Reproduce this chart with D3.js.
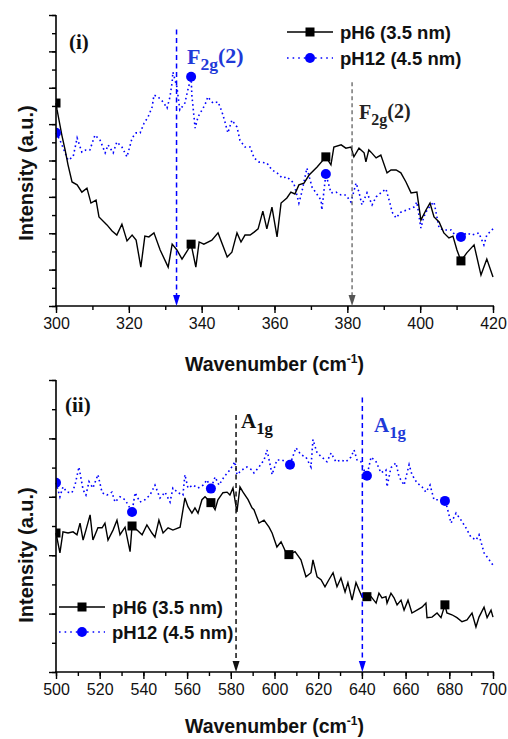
<!DOCTYPE html>
<html>
<head>
<meta charset="utf-8">
<script src="https://cdn.jsdelivr.net/npm/d3@7"></script>
<style>
  html, body { margin: 0; padding: 0; background: #fff; }
  svg { display: block; }
  .tick text { font-family: "Liberation Sans", Arial, sans-serif; }
</style>
</head>
<body>
<svg id="chart" width="508" height="739"></svg>
<script>
// ---------- Panel (i): F2g(2) region, 300–420 cm-1 ----------
const xTicksI = [300, 320, 340, 360, 380, 400, 420];
const pH6_i = [
  [300.0,5.58],[300.3,5.39],[301.6,4.70],[302.5,4.29],[303.3,3.88],[304.4,3.41],[305.8,3.33],[307.1,3.13],
  [308.5,3.24],[309.6,2.83],[311.0,2.91],[311.8,2.45],[314.0,2.23],[315.4,2.06],[316.7,1.95],[318.1,2.25],
  [319.5,1.79],[320.9,1.95],[322.0,1.81],[323.3,1.07],[324.4,1.92],[325.5,1.90],[326.9,2.01],[328.6,1.54],
  [330.8,1.07],[331.9,1.70],[333.2,1.54],[334.6,1.29],[336.2,1.54],[337.1,1.70],[338.4,1.07],[339.3,1.76],
  [340.6,1.70],[342.8,1.81],[344.5,2.01],[347.0,1.35],[348.3,1.48],[349.7,2.01],[350.8,1.76],[351.9,1.95],
  [353.3,1.95],[354.4,2.03],[355.5,2.12],[356.8,2.61],[357.9,2.12],[359.3,2.72],[360.7,1.90],[361.8,2.83],
  [363.4,2.97],[364.5,3.13],[365.6,3.08],[366.7,3.33],[368.1,3.38],[369.5,3.60],[371.7,3.82],[374.1,4.10],
  [375.5,3.88],[376.3,4.37],[378.3,4.43],[379.6,4.34],[381.0,4.37],[381.8,4.10],[383.2,4.34],[384.6,4.21],
  [385.1,3.96],[385.9,4.29],[386.5,4.23],[387.9,4.07],[389.2,4.15],[390.9,3.66],[392.0,3.74],[393.4,3.74],
  [394.7,3.66],[396.1,3.41],[397.5,3.11],[399.1,3.13],[400.2,2.36],[401.6,2.64],[402.7,2.83],[403.8,2.45],
  [405.2,2.31],[406.5,2.01],[407.9,1.87],[409.0,1.92],[410.1,1.54],[411.2,1.24],[412.8,1.46],[414.8,1.68],
  [416.7,0.85],[418.3,1.29],[420.0,0.80]
];
const pH12_i = [
  [300.0,4.76],[301.1,4.56],[302.5,4.21],[303.3,4.01],[304.7,4.10],[305.8,4.62],[307.1,4.23],[308.2,4.29],
  [309.3,4.29],[310.7,4.70],[312.1,4.56],[313.5,4.21],[314.3,4.43],[315.7,4.21],[316.7,4.51],[318.1,4.37],
  [319.5,4.10],[320.9,4.62],[322.0,4.76],[323.1,4.76],[324.2,5.03],[325.3,5.20],[326.4,5.47],[326.9,5.80],
  [328.0,5.75],[329.4,5.61],[330.5,5.44],[331.3,5.75],[331.9,6.16],[332.1,6.43],[333.2,6.02],[334.0,5.39],
  [335.4,5.58],[336.2,5.94],[337.1,6.30],[337.3,5.80],[338.2,4.89],[339.0,5.20],[340.1,5.39],[340.9,5.53],
  [341.7,5.75],[343.1,5.58],[344.5,5.61],[345.6,5.33],[346.4,5.06],[347.2,4.76],[348.3,5.11],[349.7,4.92],
  [350.5,4.56],[351.9,4.37],[353.3,4.37],[354.4,4.07],[355.7,3.96],[357.9,3.93],[359.3,3.74],[360.7,3.66],
  [362.1,3.52],[363.4,3.55],[365.3,3.38],[366.7,2.83],[367.5,3.13],[368.9,3.79],[370.3,3.27],[371.4,3.11],
  [372.8,2.91],[373.0,2.64],[374.1,3.63],[375.5,3.11],[376.9,3.13],[378.3,3.05],[379.6,3.05],[381.0,2.86],
  [382.4,3.38],[383.2,3.13],[384.0,2.78],[385.4,3.11],[386.8,2.78],[387.9,3.00],[389.2,3.11],[390.6,3.22],
  [391.7,2.83],[392.3,2.58],[393.4,2.42],[394.7,2.58],[396.4,2.64],[398.3,2.72],[399.1,2.86],[400.2,2.14],
  [401.0,2.45],[401.9,2.64],[403.0,2.78],[403.8,2.86],[405.2,2.14],[406.5,2.09],[408.5,2.09],[409.8,1.92],
  [411.2,1.90],[412.8,2.01],[414.2,1.95],[416.1,2.01],[417.5,1.68],[418.3,1.95],[420.0,2.12]
];
const pH6_i_marks  = [[300.0,5.58],[337.1,1.70],[374.1,4.10],[411.2,1.24]];
const pH12_i_marks = [[300.0,4.76],[337.1,6.30],[374.1,3.63],[411.2,1.90]];
// peak markers: [wavenumber, top of dashed line in intensity units]
const peakI_pH12 = [333.1, 7.6];
const peakI_pH6  = [381.3, 6.15];

// ---------- Panel (ii): A1g region, 500–700 cm-1 ----------
const xTicksII = [500, 520, 540, 560, 580, 600, 620, 640, 660, 680, 700];
const pH6_ii = [
  [500.0,2.38],[501.8,2.04],[503.2,2.40],[505.5,2.38],[507.8,2.40],[509.6,2.35],[511.0,2.55],[512.4,2.26],
  [513.7,2.43],[515.6,2.69],[516.9,2.26],[519.2,2.47],[521.1,2.47],[522.4,2.55],[523.8,2.26],[526.1,2.43],
  [527.9,2.60],[529.3,2.35],[531.6,2.48],[533.9,2.06],[534.8,2.50],[537.1,2.43],[539.4,2.35],[541.6,2.52],
  [543.9,2.38],[545.3,2.31],[547.1,2.60],[549.0,2.38],[551.3,2.47],[553.5,2.43],[556.8,2.48],[559.0,2.98],
  [560.4,2.83],[562.2,2.72],[563.6,2.81],[565.0,2.72],[566.8,2.95],[568.2,3.00],[569.6,2.95],[570.9,2.90],
  [572.8,2.78],[574.1,2.95],[576.4,3.07],[578.3,3.08],[579.6,3.03],[581.0,3.15],[582.8,2.74],[584.2,3.17],
  [585.6,3.08],[587.9,2.95],[589.7,2.81],[590.6,2.78],[592.9,2.55],[595.2,2.60],[597.5,2.48],[598.9,2.38],
  [601.1,2.14],[603.0,2.23],[605.3,2.04],[606.6,2.01],[609.4,2.06],[612.1,1.92],[614.4,1.63],[616.7,1.70],
  [617.6,1.92],[619.5,1.63],[621.3,1.58],[623.1,1.46],[624.9,1.58],[626.8,1.70],[628.6,1.46],[630.4,1.61],
  [632.3,1.37],[633.6,1.53],[635.5,1.23],[637.3,1.53],[639.1,1.37],[640.0,1.29],[642.3,1.29],[644.2,1.29],
  [646.5,1.18],[647.8,1.35],[649.2,1.27],[651.0,1.29],[651.5,1.18],[653.3,1.35],[654.7,1.27],[656.1,1.15],
  [657.9,1.23],[659.3,1.06],[661.1,1.23],[662.9,1.01],[665.2,1.06],[667.5,1.11],[669.3,1.18],[669.8,0.93],
  [672.1,0.94],[674.4,1.01],[676.2,0.93],[678.0,1.15],[678.9,1.01],[681.2,0.98],[683.5,0.93],[685.8,0.86],
  [688.1,0.89],[690.4,1.01],[692.2,0.77],[693.6,0.94],[695.9,1.11],[697.3,0.93],[699.1,1.06],[700.0,0.94]
];
const pH12_ii = [
  [500.0,3.24],[501.8,3.00],[503.2,3.17],[505.0,3.08],[507.3,3.07],[508.7,3.20],[510.5,3.51],[512.4,3.12],
  [513.7,3.03],[515.1,3.26],[516.9,3.15],[519.2,3.38],[521.1,3.07],[523.3,3.03],[525.6,3.08],[527.0,2.91],
  [529.3,3.00],[531.6,2.95],[533.0,2.86],[534.8,2.74],[536.2,3.07],[538.4,2.91],[540.7,2.95],[543.0,3.03],
  [545.3,3.20],[547.6,2.98],[549.9,3.08],[552.2,2.91],[553.5,3.15],[555.8,3.07],[558.1,3.03],[559.0,3.38],
  [560.4,3.15],[562.7,3.20],[565.0,3.15],[567.3,3.20],[569.1,3.29],[570.9,3.14],[572.8,3.34],[574.6,3.20],
  [576.9,3.34],[579.6,3.46],[581.9,3.60],[582.8,3.38],[585.1,3.46],[587.4,3.51],[589.7,3.46],[590.6,3.41],
  [592.9,3.51],[595.2,3.63],[596.6,3.80],[598.9,3.38],[601.1,3.63],[603.4,3.63],[605.3,3.60],[607.1,3.55],
  [609.8,3.84],[612.1,3.72],[614.4,3.68],[616.7,3.51],[617.6,3.98],[619.5,3.75],[621.7,3.68],[624.0,3.60],
  [625.9,3.75],[628.1,3.60],[630.4,3.63],[632.7,3.60],[635.0,3.68],[636.4,3.80],[637.8,3.63],[639.6,3.60],
  [640.9,3.46],[642.3,3.36],[644.2,3.68],[646.5,3.60],[648.7,3.41],[651.0,3.46],[651.5,3.17],[653.3,3.50],
  [655.6,3.58],[657.0,3.34],[659.3,3.20],[661.6,3.55],[662.9,3.38],[665.2,3.24],[667.5,3.17],[669.3,3.08],
  [671.2,3.20],[673.0,2.95],[675.7,2.95],[678.0,2.93],[678.9,2.83],[680.8,2.55],[683.1,2.72],[685.4,2.60],
  [687.6,2.47],[689.9,2.31],[692.2,2.26],[693.6,2.35],[695.9,2.04],[697.3,1.97],[700.0,1.83]
];
const pH6_ii_marks  = [[500.0,2.38],[534.8,2.50],[570.9,2.90],[606.6,2.01],[642.3,1.29],[678.0,1.15]];
const pH12_ii_marks = [[500.0,3.24],[534.8,2.74],[570.9,3.14],[607.1,3.55],[642.3,3.36],[678.0,2.93]];
const peakII_pH6  = [582.4, 4.4];
const peakII_pH12 = [640.2, 4.7];

const seriesNames = ["pH6 (3.5 nm)", "pH12 (4.5 nm)"];

// ---------- drawing ----------
const BLUE = "#0000ff";
const BLUE_TXT = "#1f3ad8";
const SANS = "'Liberation Sans', Arial, sans-serif";
const SERIF = "'Liberation Serif', 'Times New Roman', serif";
const svg = d3.select("#chart");

function panel(opts) {
  const { id, x0, x1, top, bottom, xDomain, yMax, xTicks } = opts;
  const x = d3.scaleLinear().domain(xDomain).range([x0, x1]);
  const y = d3.scaleLinear().domain([0, yMax]).range([bottom, top]);
  const g = svg.append("g");

  g.append("clipPath").attr("id", id).append("rect")
    .attr("x", x0).attr("y", top).attr("width", x1 - x0).attr("height", bottom - top);

  const line = d3.line().x(d => x(d[0])).y(d => y(d[1]));

  // pH12 dotted trace
  g.append("path").datum(opts.s12).attr("d", line)
    .attr("fill", "none").attr("stroke", BLUE).attr("stroke-width", 1.6)
    .attr("stroke-dasharray", "1.6,3");
  // pH6 solid trace
  g.append("path").datum(opts.s6).attr("d", line)
    .attr("fill", "none").attr("stroke", "#000").attr("stroke-width", 1.4)
    .attr("stroke-linejoin", "miter");

  const mk = g.append("g").attr("clip-path", `url(#${id})`);
  mk.selectAll("rect.m6").data(opts.m6).join("rect")
    .attr("x", d => x(d[0]) - 4.5).attr("y", d => y(d[1]) - 4.5)
    .attr("width", 9).attr("height", 9).attr("fill", "#000");
  mk.selectAll("circle.m12").data(opts.m12).join("circle")
    .attr("cx", d => x(d[0])).attr("cy", d => y(d[1])).attr("r", 5).attr("fill", BLUE);

  // axes
  const xMinor = d3.range(xDomain[0], xDomain[1] + 0.01, (xTicks[1] - xTicks[0]) / 2);
  const xa = g.append("g").attr("transform", `translate(0,${bottom})`);
  xa.call(d3.axisBottom(x).tickValues(xMinor).tickSize(4).tickFormat(""));
  xa.call(g2 => g2.select(".domain").remove());
  const xb = g.append("g").attr("transform", `translate(0,${bottom})`)
    .call(d3.axisBottom(x).tickValues(xTicks).tickSize(7).tickPadding(5).tickFormat(d3.format("d")));
  xb.select(".domain").attr("stroke-width", 1.6).attr("d", `M${x0 - 1},0H${x1 + 1}`);
  xb.selectAll(".tick line").attr("stroke-width", 1.4);
  xa.selectAll(".tick line").attr("stroke-width", 1.4);
  xb.selectAll(".tick text").attr("font-size", 16).attr("fill", "#111").attr("font-family", SANS);

  const yMinor = d3.range(0, yMax + 0.01, 0.5);
  const yMajor = d3.range(0, yMax + 0.01, 1);
  const ya = g.append("g").attr("transform", `translate(${x0},0)`);
  ya.call(d3.axisLeft(y).tickValues(yMinor).tickSize(4).tickFormat(""));
  ya.select(".domain").remove();
  ya.selectAll(".tick line").attr("stroke-width", 1.4);
  const yb = g.append("g").attr("transform", `translate(${x0},0)`)
    .call(d3.axisLeft(y).tickValues(yMajor).tickSize(7).tickFormat(""));
  yb.select(".domain").attr("stroke-width", 1.6).attr("d", `M0,${top}V${bottom + 1}`);
  yb.selectAll(".tick line").attr("stroke-width", 1.4);

  // axis titles
  const xt = g.append("text").attr("x", (x0 + x1) / 2).attr("y", opts.xTitleY)
    .attr("text-anchor", "middle").attr("font-family", SANS).attr("font-weight", "bold")
    .attr("font-size", 19.5).attr("fill", "#111");
  xt.append("tspan").text("Wavenumber (cm");
  xt.append("tspan").attr("font-size", 12).attr("dy", -8).text("-1");
  xt.append("tspan").attr("dy", 8).text(")");

  g.append("text").attr("transform", `translate(${opts.yTitleX},${opts.yTitleY}) rotate(-90)`)
    .attr("text-anchor", "middle").attr("font-family", SANS).attr("font-weight", "bold")
    .attr("font-size", 20).attr("fill", "#111").text("Intensity (a.u.)");

  // panel tag
  g.append("text").attr("x", opts.tag[1]).attr("y", opts.tag[2])
    .attr("font-family", SERIF).attr("font-weight", "bold").attr("font-size", 21)
    .attr("fill", "#111").text(opts.tag[0]);

  // legend
  const L = opts.legend;
  const leg = g.append("g");
  [0, 1].forEach(i => {
    const cy = L.y + i * L.dy;
    leg.append("line").attr("x1", L.x0).attr("x2", L.x1).attr("y1", cy).attr("y2", cy)
      .attr("stroke", i ? BLUE : "#000").attr("stroke-width", i ? 1.6 : 1.4)
      .attr("stroke-dasharray", i ? "1.6,4" : null);
    if (i) leg.append("circle").attr("cx", (L.x0 + L.x1) / 2).attr("cy", cy).attr("r", 5).attr("fill", BLUE);
    else leg.append("rect").attr("x", (L.x0 + L.x1) / 2 - 4.5).attr("y", cy - 4.5)
      .attr("width", 9).attr("height", 9).attr("fill", "#000");
    leg.append("text").attr("x", L.x1 + 7).attr("y", cy + 6.5)
      .attr("font-family", SANS).attr("font-weight", "bold").attr("font-size", 18.5)
      .attr("fill", "#111").text(seriesNames[i]);
  });

  // peak indicator lines with arrowheads and mode labels
  opts.peaks.forEach(p => {
    const px = x(p.pos[0]);
    g.append("line").attr("x1", px).attr("x2", px).attr("y1", y(p.pos[1])).attr("y2", bottom - 8)
      .attr("stroke", p.color).attr("stroke-width", p.w).attr("stroke-dasharray", p.dash);
    g.append("path").attr("d", `M${px - 3.5},${bottom - 11}L${px + 3.5},${bottom - 11}L${px},${bottom}Z`)
      .attr("fill", p.color);
    const t = g.append("text").attr("x", p.lx).attr("y", p.ly)
      .attr("font-family", SERIF).attr("font-weight", "bold").attr("font-size", p.fs)
      .attr("fill", p.tcolor);
    t.append("tspan").text(p.label[0]);
    t.append("tspan").attr("dy", 6).attr("font-size", p.fs * 0.8).text(p.label[1]);
    if (p.label[2]) t.append("tspan").attr("dy", -7).text(p.label[2]);
  });
}

panel({
  id: "clipI", x0: 56, x1: 493, top: 15, bottom: 306, xDomain: [300, 420], yMax: 8,
  xTicks: xTicksI, s6: pH6_i, s12: pH12_i, m6: pH6_i_marks, m12: pH12_i_marks,
  xTitleY: 371, yTitleX: 33, yTitleY: 173, tag: ["(i)", 69, 49],
  legend: { x0: 287, x1: 333, y: 32, dy: 26 },
  peaks: [
    { pos: peakI_pH12, color: BLUE, tcolor: BLUE_TXT, w: 1.5, dash: "5,3.5", lx: 187, ly: 64, fs: 22, label: ["F", "2g", "(2)"] },
    { pos: peakI_pH6, color: "#555", tcolor: "#222", w: 1.2, dash: "4,3", lx: 359, ly: 119, fs: 20, label: ["F", "2g", "(2)"] }
  ]
});

panel({
  id: "clipII", x0: 56, x1: 493, top: 380, bottom: 672, xDomain: [500, 700], yMax: 5,
  xTicks: xTicksII, s6: pH6_ii, s12: pH12_ii, m6: pH6_ii_marks, m12: pH12_ii_marks,
  xTitleY: 733, yTitleX: 33, yTitleY: 555, tag: ["(ii)", 65, 412],
  legend: { x0: 59, x1: 105, y: 607, dy: 25 },
  peaks: [
    { pos: peakII_pH6, color: "#111", tcolor: "#111", w: 1.5, dash: "5,3.5", lx: 241, ly: 428, fs: 21, label: ["A", "1g"] },
    { pos: peakII_pH12, color: BLUE, tcolor: BLUE_TXT, w: 1.5, dash: "5,3.5", lx: 374, ly: 432, fs: 21, label: ["A", "1g"] }
  ]
});
</script>
</body>
</html>
